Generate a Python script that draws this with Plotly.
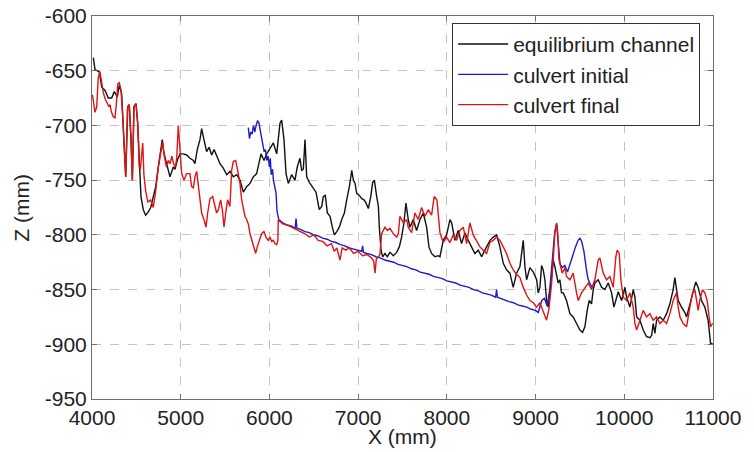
import plotly.graph_objects as go

# ---- data (mm) ----
eq_x = [4015, 4034, 4082, 4110, 4147, 4184, 4222, 4251, 4285, 4308, 4334, 4360, 4380, 4402, 4420,
        4440, 4455, 4473, 4496, 4515, 4533, 4552, 4578, 4605, 4635, 4662, 4691, 4718, 4747, 4767,
        4792, 4810, 4842, 4879, 4916, 4935, 4961, 4992, 5029, 5067, 5104, 5142, 5160, 5187, 5217,
        5236, 5262, 5292, 5320, 5349, 5376, 5405, 5443, 5480, 5518, 5556, 5593, 5631, 5668, 5706,
        5743, 5781, 5818, 5856, 5882, 5905, 5939, 5969, 6007, 6044, 6082, 6100, 6119, 6138, 6164,
        6187, 6213, 6250, 6288, 6314, 6344, 6363, 6382, 6401, 6420, 6450, 6488, 6525, 6562, 6589,
        6608, 6630, 6653, 6683, 6709, 6732, 6759, 6788, 6815, 6845, 6871, 6901, 6928, 6946, 6965,
        6984, 7014, 7040, 7066, 7089, 7115, 7142, 7164, 7183, 7209, 7228, 7239, 7258, 7277, 7303,
        7329, 7359, 7397, 7434, 7464, 7490, 7516, 7539, 7565, 7584, 7621, 7659, 7697, 7734, 7772,
        7798, 7828, 7866, 7903, 7922, 7959, 7997, 8035, 8054, 8091, 8128, 8166, 8204, 8241, 8279,
        8316, 8354, 8392, 8429, 8486, 8523, 8561, 8598, 8636, 8673, 8711, 8748, 8786, 8824, 8861,
        8880, 8899, 8936, 8974, 9012, 9030, 9049, 9068, 9086, 9105, 9124, 9142, 9161, 9180, 9199,
        9218, 9237, 9255, 9274, 9293, 9312, 9349, 9387, 9424, 9462, 9500, 9530, 9556, 9582, 9605,
        9631, 9650, 9669, 9706, 9744, 9781, 9819, 9857, 9883, 9913, 9932, 9970, 10007, 10026, 10063,
        10101, 10120, 10139, 10176, 10213, 10251, 10289, 10308, 10326, 10345, 10364, 10401, 10439, 10477, 10514,
        10551, 10570, 10589, 10608, 10645, 10683, 10702, 10739, 10776, 10806, 10833, 10870, 10908, 10945, 10972,
        11000]
eq_z = [-638, -649, -651, -665, -668, -675, -675, -669, -674, -663, -671, -713, -747, -683, -681,
        -713, -750, -683, -680, -698, -738, -765, -777, -782, -779, -775, -765, -756, -738, -725,
        -713, -725, -736, -747, -738, -740, -732, -726, -726, -727, -730, -732, -735, -722, -713,
        -703, -713, -724, -720, -727, -722, -727, -735, -739, -745, -742, -747, -745, -750, -761,
        -756, -753, -747, -744, -735, -726, -732, -726, -721, -716, -726, -713, -698, -695, -713,
        -744, -753, -745, -750, -738, -730, -741, -740, -713, -747, -752, -756, -761, -777, -774,
        -765, -764, -780, -783, -793, -800, -797, -793, -786, -780, -768, -756, -741, -750, -753,
        -762, -764, -767, -768, -771, -776, -765, -752, -750, -765, -774, -793, -814, -820, -817,
        -820, -816, -819, -816, -811, -802, -789, -771, -786, -793, -786, -796, -786, -780, -793,
        -811, -817, -820, -819, -820, -805, -800, -786, -789, -805, -796, -808, -798, -805, -811,
        -817, -814, -820, -814, -805, -802, -800, -811, -826, -832, -835, -848, -835, -829, -805,
        -829, -841, -830, -834, -841, -853, -848, -828, -832, -841, -860, -866, -853, -839, -823,
        -829, -839, -844, -841, -853, -853, -860, -872, -875, -881, -887, -889, -884, -869, -860,
        -863, -850, -844, -841, -848, -850, -844, -853, -866, -857, -852, -860, -848, -857, -866,
        -850, -857, -875, -878, -887, -893, -894, -892, -881, -890, -878, -875, -878, -872, -863,
        -850, -839, -848, -860, -866, -871, -875, -863, -850, -843, -848, -860, -866, -878, -899,
        -900]

init_x = [5762, 5775, 5790, 5805, 5820, 5835, 5850, 5865, 5880, 5895, 5910, 5925, 5940, 5955, 5970,
          5985, 6000, 6010, 6020, 6035, 6045, 6060, 6075, 6085, 6095, 6105, 6150, 6200, 6250, 6290,
          6300, 6310, 6350, 6400, 6450, 6500, 6550, 6600, 6650, 6700, 6750, 6800, 6850, 6900, 6950,
          7000, 7040, 7050, 7060, 7100, 7150, 7200, 7250, 7300, 7350, 7400, 7450, 7500, 7550, 7600,
          7650, 7700, 7750, 7800, 7850, 7900, 7950, 8000, 8050, 8100, 8150, 8200, 8250, 8300, 8350,
          8400, 8450, 8500, 8550, 8560, 8570, 8600, 8650, 8700, 8750, 8800, 8850, 8900, 8950, 9000,
          9030, 9050, 9070, 9100, 9130, 9160, 9190, 9215, 9237, 9255, 9275, 9300, 9330, 9360, 9390,
          9420, 9450, 9480, 9500, 9520, 9545, 9570, 9590, 9615, 9640, 9669]
init_z = [-702, -712, -706, -708, -700, -706, -700, -696, -697, -704, -713, -720, -724, -722, -732,
          -728, -738, -730, -745, -740, -750, -756, -762, -778, -782, -786, -789, -791, -792, -794,
          -785, -794, -795, -797, -798, -800, -801, -803, -804, -806, -807, -809, -810, -812, -813,
          -814, -815, -810, -816, -817, -818, -820, -821, -823, -824, -825, -827, -828, -829, -831,
          -832, -834, -835, -836, -838, -839, -840, -842, -843, -844, -846, -847, -848, -850, -851,
          -853, -854, -855, -857, -850, -857, -858, -859, -861, -862, -864, -865, -866, -868, -869,
          -871, -866, -860, -858, -865, -850, -822, -798, -790, -805, -826, -830, -828, -834, -826,
          -818, -811, -805, -803, -806, -815, -830, -840, -845, -848, -841]

fin_x = [4005, 4020, 4034, 4053, 4071, 4090, 4110, 4127, 4150, 4165, 4190, 4203, 4220, 4240, 4259,
         4275, 4290, 4308, 4327, 4345, 4360, 4380, 4402, 4420, 4440, 4455, 4473, 4496, 4515, 4533,
         4545, 4560, 4572, 4585, 4605, 4630, 4660, 4690, 4715, 4745, 4770, 4795, 4815, 4840, 4860,
         4880, 4900, 4920, 4940, 4955, 4973, 4990, 5011, 5037, 5067, 5104, 5123, 5142, 5161, 5180,
         5210, 5236, 5262, 5285, 5304, 5330, 5360, 5386, 5405, 5424, 5450, 5469, 5488, 5507, 5529,
         5555, 5574, 5593, 5619, 5642, 5668, 5687, 5706, 5724, 5743, 5762, 5781, 5800, 5826, 5845,
         5863, 5886, 5912, 5938, 5961, 5987, 6006, 6025, 6043, 6062, 6082, 6095, 6100, 6150, 6200,
         6250, 6300, 6350, 6400, 6450, 6500, 6550, 6600, 6650, 6700, 6730, 6760, 6795, 6820, 6860,
         6900, 6950, 7000, 7050, 7100, 7150, 7175, 7190, 7205, 7230, 7245, 7265, 7303, 7329, 7359,
         7397, 7434, 7453, 7471, 7509, 7547, 7565, 7603, 7640, 7677, 7715, 7753, 7790, 7828, 7857,
         7888, 7922, 7959, 7997, 8035, 8072, 8110, 8147, 8185, 8223, 8260, 8297, 8336, 8373, 8410,
         8448, 8485, 8523, 8561, 8598, 8636, 8673, 8711, 8748, 8786, 8824, 8861, 8899, 8936, 8974,
         9012, 9049, 9086, 9124, 9150, 9180, 9199, 9218, 9237, 9250, 9262, 9280, 9300, 9330, 9349,
         9387, 9424, 9462, 9481, 9518, 9556, 9594, 9631, 9669, 9706, 9725, 9763, 9800, 9838, 9875,
         9905, 9920, 9943, 9962, 9988, 10026, 10063, 10101, 10120, 10139, 10176, 10213, 10251, 10289, 10326,
         10364, 10401, 10439, 10477, 10514, 10551, 10589, 10608, 10627, 10664, 10702, 10739, 10770, 10795, 10814,
         10833, 10851, 10882, 10908, 10934, 10956, 10972, 10995]
fin_z = [-672, -680, -688, -683, -656, -651, -660, -670, -676, -679, -683, -681, -688, -692, -693,
         -680, -662, -661, -668, -690, -713, -747, -683, -681, -713, -750, -683, -680, -698, -738,
         -740, -725, -716, -745, -760, -770, -768, -775, -762, -740, -725, -715, -728, -738, -732,
         -735, -728, -735, -738, -730, -700, -725, -744, -750, -744, -744, -756, -757, -747, -742,
         -762, -780, -786, -793, -780, -767, -765, -774, -780, -777, -768, -777, -793, -780, -768,
         -774, -741, -733, -732, -741, -753, -768, -777, -783, -786, -790, -799, -805, -811, -817,
         -811, -805, -799, -797, -802, -805, -802, -806, -805, -808, -809, -805, -786, -790, -791,
         -793, -795, -797, -799, -802, -800, -805, -806, -810, -808, -815, -812, -823, -812, -814,
         -812, -817, -815, -819, -818, -821, -824, -835, -822, -820, -818, -799, -793, -796, -794,
         -799, -802, -799, -783, -789, -786, -793, -798, -780, -786, -775, -783, -777, -782, -765,
         -768, -798, -807, -802, -807, -800, -805, -796, -793, -808, -789, -800, -805, -811, -814,
         -817, -807, -805, -802, -805, -811, -817, -826, -832, -836, -839, -848, -855, -860, -862,
         -866, -862, -870, -878, -868, -845, -823, -798, -789, -798, -822, -829, -835, -830, -838,
         -841, -835, -853, -860, -853, -848, -844, -850, -841, -823, -821, -835, -841, -838, -848,
         -820, -814, -817, -841, -857, -860, -853, -866, -881, -887, -878, -869, -875, -872, -878,
         -875, -881, -878, -881, -872, -860, -853, -866, -875, -881, -884, -866, -853, -850, -860,
         -869, -860, -850, -853, -860, -875, -884, -881]

x_ticks = [4000, 5000, 6000, 7000, 8000, 9000, 10000, 11000]
x_labels = ["4000", "5000", "6000", "7000", "8000", "9000", "10000", "11000"]
z_ticks = [-950, -900, -850, -800, -750, -700, -650, -600]
z_labels = ["-950", "-900", "-850", "-800", "-750", "-700", "-650", "-600"]

FONT = "Arial, Liberation Sans, Helvetica, sans-serif"
TXT = "#222222"

fig = go.Figure()
fig.add_trace(go.Scatter(x=eq_x, y=eq_z, mode="lines", name="equilibrium channel",
                         line=dict(color="#111111", width=1.4)))
fig.add_trace(go.Scatter(x=init_x, y=init_z, mode="lines", name="culvert initial",
                         line=dict(color="#1c1cc8", width=1.4)))
fig.add_trace(go.Scatter(x=fin_x, y=fin_z, mode="lines", name="culvert final",
                         line=dict(color="#dd1414", width=1.4)))

axis_common = dict(
    showline=True, linecolor="#6e6e6e", linewidth=1, mirror="ticks",
    ticks="inside", ticklen=5, tickcolor="#6e6e6e",
    showgrid=True, gridcolor="#c4c4c4", griddash="dash", gridwidth=1,
    zeroline=False, automargin=False,
    tickfont=dict(family=FONT, size=21, color=TXT),
)

fig.update_layout(
    width=754, height=452,
    margin=dict(l=92, r=41, t=16, b=53),
    paper_bgcolor="white", plot_bgcolor="white",
    font=dict(family=FONT, size=21, color=TXT),
    showlegend=True,
    legend=dict(x=0.58, y=0.982, xanchor="left", yanchor="top",
                bgcolor="white", bordercolor="#333333", borderwidth=1,
                font=dict(family=FONT, size=21, color=TXT),
                tracegroupgap=0, itemwidth=50),
    xaxis=dict(range=[4000, 11000], tickvals=x_ticks, ticktext=x_labels, **axis_common),
    yaxis=dict(range=[-950, -600], tickvals=z_ticks, ticktext=z_labels, **axis_common),
    annotations=[
        dict(text="X (mm)", xref="paper", yref="paper", x=0.5, y=-0.099,
             xanchor="center", yanchor="middle", showarrow=False,
             font=dict(family=FONT, size=21, color=TXT)),
        dict(text="Z (mm)", xref="paper", yref="paper", x=-0.114, y=0.5,
             xanchor="center", yanchor="middle", textangle=-90, showarrow=False,
             font=dict(family=FONT, size=21, color=TXT)),
    ],
)

# remove the browser's default 8px page margin so the figure sits at the window origin
fig.write_html("out.html", config={"displayModeBar": False},
               post_script="document.body.style.margin='0px';")
